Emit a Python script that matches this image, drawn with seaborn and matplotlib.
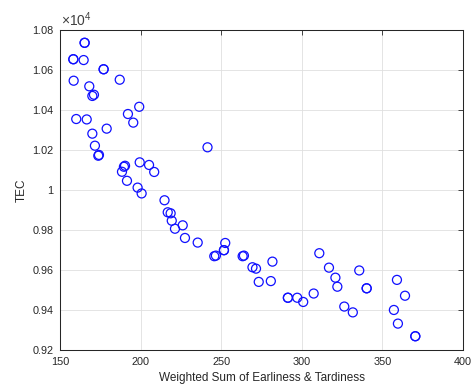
import numpy as np
import pandas as pd
import matplotlib
matplotlib.use("Agg")
import matplotlib.pyplot as plt
import seaborn as sns
from matplotlib.ticker import FuncFormatter, MultipleLocator

sns.set_style("white")
plt.rcParams["font.family"] = ["Liberation Sans", "DejaVu Sans"]
plt.rcParams["mathtext.fontset"] = "custom"
plt.rcParams["mathtext.rm"] = "Liberation Sans"

# weighted sum of earliness & tardiness (x) and TEC (y)
weighted_sum = [165.1, 165.1, 158.1, 158.1, 164.5, 176.9, 176.9, 158.3, 186.9, 168.0,
                169.9, 170.9, 199.0, 192.0, 195.3, 159.9, 166.4, 178.8, 169.9, 171.5,
                174.0, 173.6, 241.4, 199.3, 190.2, 189.5, 205.1, 188.3, 208.3, 191.4,
                198.0, 200.5, 214.7, 216.7, 218.5, 219.2, 221.2, 226.0, 227.4, 235.3,
                252.4, 251.6, 251.6, 245.6, 246.6, 263.2, 264.0, 281.7, 269.3, 271.5,
                273.2, 280.7, 310.8, 316.8, 320.8, 322.0, 335.6, 340.2, 340.2, 291.3,
                291.3, 297.1, 300.8, 307.3, 326.3, 331.6, 359.0, 364.0, 357.1, 359.6,
                370.4, 370.4]
tec = [10734, 10734, 10652, 10652, 10648, 10602, 10602, 10545, 10550, 10517,
       10469, 10475, 10415, 10379, 10336, 10354, 10352, 10306, 10281, 10221,
       10175, 10171, 10213, 10138, 10121, 10116, 10125, 10091, 10090, 10046,
       10012, 9983, 9949, 9889, 9884, 9847, 9807, 9824, 9761, 9738,
       9736, 9700, 9700, 9670, 9673, 9670, 9673, 9643, 9615, 9608,
       9542, 9546, 9685, 9613, 9563, 9518, 9599, 9510, 9510, 9463,
       9463, 9463, 9442, 9484, 9419, 9390, 9552, 9473, 9402, 9334,
       9271, 9271]

df = pd.DataFrame({"wset": weighted_sum, "tec": tec})

fig = plt.figure(figsize=(4.71, 3.89), dpi=100)
ax = fig.add_axes([0.128, 0.099, 0.855, 0.825])

sns.scatterplot(data=df, x="wset", y="tec", ax=ax, marker="o", s=42,
                facecolor="none", edgecolor="#1010ff", linewidth=0.9, zorder=3)

ax.set_xlim(150, 400)
ax.set_ylim(9200, 10800)
ax.xaxis.set_major_locator(MultipleLocator(50))
ax.yaxis.set_major_locator(MultipleLocator(200))
ax.yaxis.set_major_formatter(FuncFormatter(
    lambda v, p: f"{v / 1e4:.2f}".rstrip("0").rstrip(".")))

# matlab look: grid, box, inward ticks
ax.grid(True, color="#dfdfdf", linewidth=0.6)
for sp in ax.spines.values():
    sp.set_visible(True)
    sp.set_color("#262626")
    sp.set_linewidth(0.75)
ax.tick_params(direction="in", top=True, right=True, length=3.5, width=0.6,
               labelsize=7.8, colors="#262626", pad=5)

ax.set_xlabel("Weighted Sum of Earliness & Tardiness", fontsize=8.5,
              color="#262626", labelpad=3)
ax.set_ylabel("TEC", fontsize=8.5, color="#262626", labelpad=3)

ax.text(0.002, 1.011, r"$\times10^{4}$", transform=ax.transAxes,
        ha="left", va="baseline", fontsize=10, color="#404040")

fig.savefig("out.png", dpi=100)
